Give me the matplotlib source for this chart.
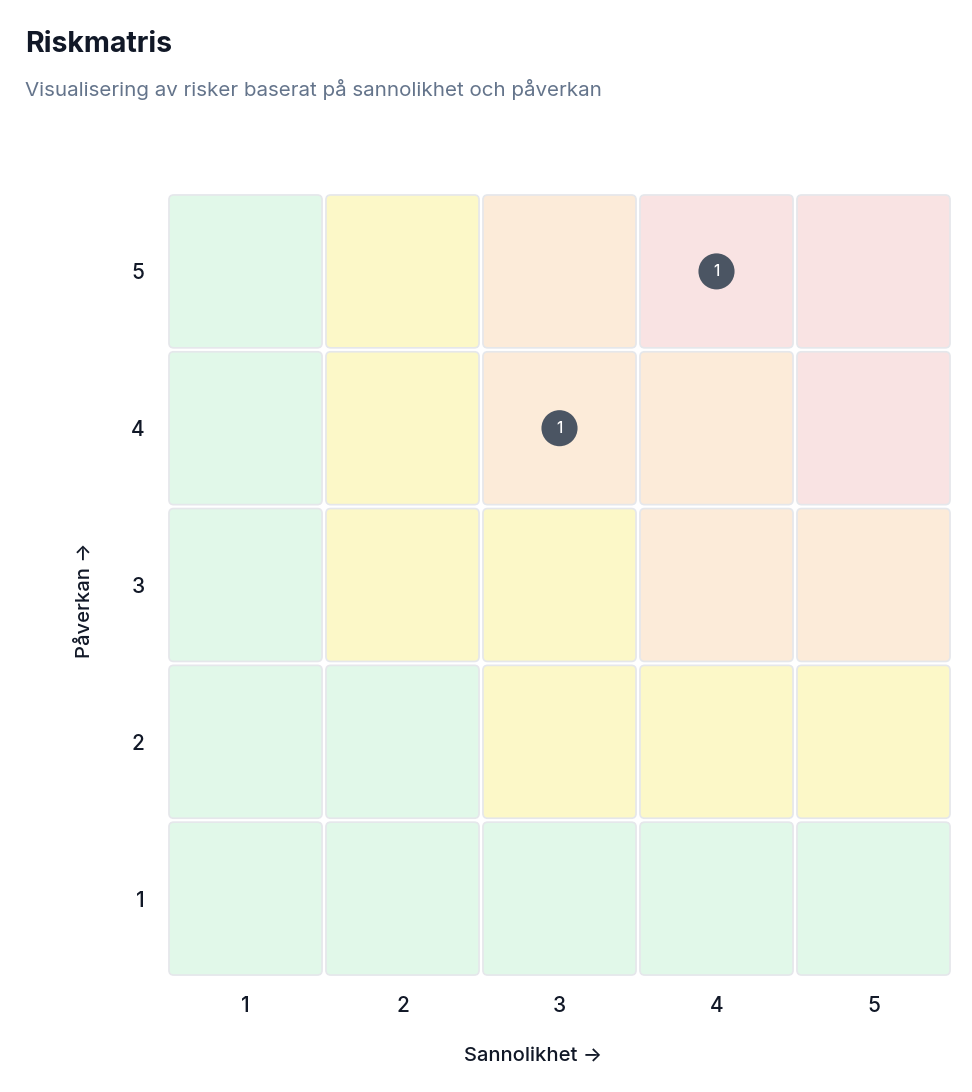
import matplotlib.pyplot as plt
from matplotlib.patches import FancyBboxPatch, Circle

plt.rcParams['font.family'] = ['Inter', 'DejaVu Sans']

# Risk matrix data
probability = [1, 2, 3, 4, 5]
impact = [1, 2, 3, 4, 5]
# level per cell, rows = impact 1..5, cols = probability 1..5
levels = [
    ['low', 'low', 'low', 'low', 'low'],
    ['low', 'low', 'medium', 'medium', 'medium'],
    ['low', 'medium', 'medium', 'high', 'high'],
    ['low', 'medium', 'high', 'high', 'critical'],
    ['low', 'medium', 'high', 'critical', 'critical'],
]
risk_prob = [4, 3]
risk_impact = [5, 4]
risk_count = [1, 1]

level_colors = {
    'low': '#e1f8e9',
    'medium': '#fcf8c8',
    'high': '#fcebd9',
    'critical': '#f9e3e3',
}

fig = plt.figure(figsize=(9.72, 10.92), dpi=100)
ax = fig.add_axes([167 / 972, 1 - 977 / 1092, 785 / 972, 784 / 1092])

size = 0.975
rad = 0.03
for r, imp in enumerate(impact):
    for c, p in enumerate(probability):
        box = FancyBboxPatch((p - size / 2 + rad, imp - size / 2 + rad),
                             size - 2 * rad, size - 2 * rad,
                             boxstyle='round,pad=%f' % rad,
                             facecolor=level_colors[levels[r][c]],
                             edgecolor='#e5e7eb', linewidth=1.2)
        ax.add_patch(box)

for p, imp, n in zip(risk_prob, risk_impact, risk_count):
    ax.add_patch(Circle((p, imp), 0.115, facecolor='#4b5563', edgecolor='none', zorder=3))
    ax.text(p, imp, str(n), ha='center', va='center', color='white',
            fontsize=11, fontweight='medium', zorder=4)

ax.set_xlim(0.5, 5.5)
ax.set_ylim(0.5, 5.5)
ax.set_xticks(probability)
ax.set_yticks(impact)
ax.tick_params(length=0, labelsize=15, colors='#111827')
ax.tick_params(axis='x', pad=14)
ax.tick_params(axis='y', pad=16)
for lbl in ax.get_xticklabels() + ax.get_yticklabels():
    lbl.set_fontweight('medium')
for s in ax.spines.values():
    s.set_visible(False)

fig.text(533 / 972, 1 - 1056 / 1092, 'Sannolikhet \u2192', ha='center', va='center',
         fontsize=14.5, fontweight='medium', color='#111827')
fig.text(84 / 972, 1 - 600 / 1092, 'P\u00e5verkan \u2192', ha='center', va='center',
         rotation=90, fontsize=14.5, fontweight='medium', color='#111827')

fig.text(25 / 972, 1 - 45 / 1092, 'Riskmatris', ha='left', va='center',
         fontsize=20.5, fontweight='bold', color='#111827')
fig.text(25 / 972, 1 - 90 / 1092, 'Visualisering av risker baserat p\u00e5 sannolikhet och p\u00e5verkan',
         ha='left', va='center', fontsize=14.8, color='#64748b')

fig.savefig('out.png', dpi=100)
